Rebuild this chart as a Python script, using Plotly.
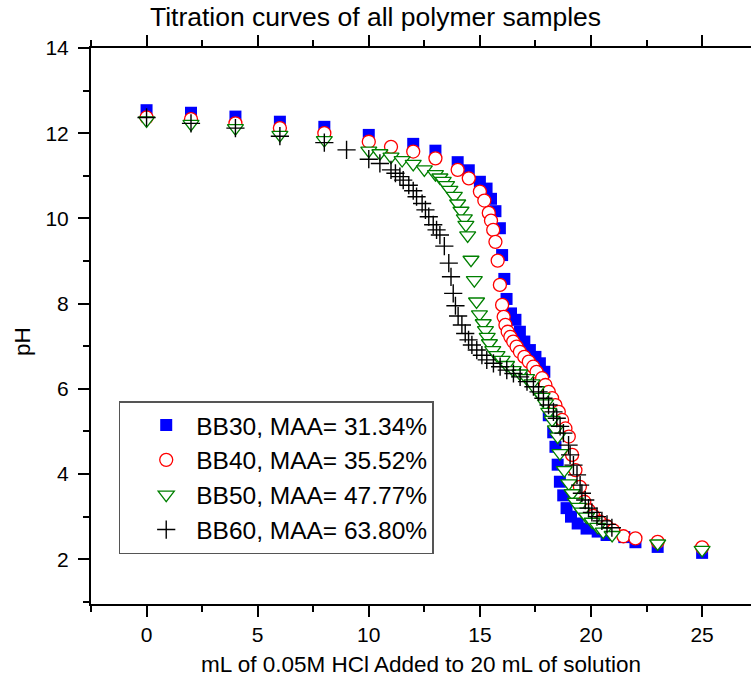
import plotly.graph_objects as go

# ---- data ----
names = ["BB30, MAA= 31.34%", "BB40, MAA= 35.52%", "BB50, MAA= 47.77%", "BB60, MAA= 63.80%"]

x30 = [0, 2, 4, 6, 8, 10, 12, 13, 14, 14.5, 15, 15.3, 15.5, 15.7, 15.9, 16.0, 16.1, 16.2, 16.4, 16.6,
       16.8, 17.0, 17.25, 17.5, 17.7, 17.9, 18.0, 18.1, 18.3, 18.4, 18.5, 18.6, 18.75, 18.9, 19.1,
       19.4, 19.8, 20.3, 20.7, 21.5, 22, 23, 25]
y30 = [12.54, 12.48, 12.39, 12.27, 12.15, 11.96, 11.75, 11.59, 11.32, 11.13, 10.86, 10.7, 10.46, 10.17, 9.77,
       9.14, 8.58, 8.11, 7.77, 7.62, 7.34, 7.11, 6.91, 6.75, 6.6, 6.4, 5.9, 5.38, 4.98, 4.64,
       4.22, 3.82, 3.5, 3.2, 3.0, 2.84, 2.72, 2.65, 2.57, 2.52, 2.4, 2.29, 2.15]

x40 = [0, 2, 4, 6, 8, 10, 11, 12, 13, 14, 14.5, 15, 15.2, 15.4, 15.5, 15.6, 15.7, 15.8, 15.9, 16.0,
       16.07, 16.15, 16.25, 16.37, 16.5, 16.65, 16.8, 17.0, 17.2, 17.4, 17.55, 17.8, 17.95, 18.1, 18.25,
       18.4, 18.55, 18.7, 18.85, 19.0, 19.15, 19.3, 19.5, 19.7, 19.9, 20.1, 20.4, 20.7, 21.0, 21.46,
       22, 23, 25]
y40 = [12.37, 12.33, 12.23, 12.12, 12.0, 11.8, 11.68, 11.57, 11.41, 11.14, 10.94, 10.63, 10.42, 10.13, 9.95,
       9.73, 9.45, 9.01, 8.44, 7.97, 7.69, 7.5, 7.34, 7.22, 7.11, 6.99, 6.87, 6.75, 6.64, 6.52,
       6.4, 6.25, 6.09, 5.93, 5.78, 5.62, 5.46, 5.27, 5.07, 4.88, 4.45, 4.09, 3.7, 3.35, 3.15,
       3.02, 2.88, 2.78, 2.68, 2.54, 2.49, 2.41, 2.28]

x50 = [0, 2, 4, 6, 8, 10, 10.5, 11, 11.5, 12, 12.5, 13, 13.2, 13.35, 13.5, 13.65, 13.85, 14.0, 14.15, 14.3,
       14.37, 14.45, 14.6, 14.75, 14.85, 14.98, 15.15, 15.25, 15.33, 15.43, 15.58, 15.77, 16.0, 16.2, 16.5,
       16.8, 17.1, 17.35, 17.55, 17.8, 17.95, 18.1, 18.25, 18.4, 18.5, 18.6, 18.8, 19.0, 19.15, 19.3,
       19.45, 19.6, 19.8, 20.05, 20.3, 20.55, 20.95, 23, 25]
y50 = [12.3, 12.22, 12.12, 11.96, 11.84, 11.59, 11.53, 11.45, 11.37, 11.28, 11.15, 11.04, 10.96, 10.88, 10.78,
       10.67, 10.53, 10.35, 10.18, 10.0, 9.85, 9.6, 9.03, 8.55, 8.05, 7.75, 7.54, 7.38, 7.22, 7.07,
       6.91, 6.79, 6.68, 6.56, 6.44, 6.36, 6.25, 6.13, 5.97, 5.81, 5.66, 5.46, 5.27, 5.05, 4.88,
       4.49, 4.09, 3.78, 3.55, 3.35, 3.23, 3.12, 3.0, 2.88, 2.76, 2.65, 2.57, 2.37, 2.22]

x60 = [0, 2, 4, 6, 8, 9, 10, 10.5, 11, 11.2, 11.4, 11.55, 11.8, 12.0, 12.15, 12.4, 12.55, 12.7, 12.9, 13.05,
       13.2, 13.4, 13.6, 13.7, 13.8, 13.9, 14.02, 14.19, 14.34, 14.49, 14.64, 14.86, 15.09, 15.31, 15.61,
       15.91, 16.21, 16.51, 16.81, 17.12, 17.41, 17.64, 17.86, 18.09, 18.31, 18.46, 18.61, 18.76, 18.99, 19.06,
       19.21, 19.37, 19.51, 19.59, 19.74, 19.89, 20.04, 20.27, 20.49, 20.72, 20.94]
y60 = [12.37, 12.23, 12.12, 11.93, 11.78, 11.61, 11.39, 11.29, 11.14, 11.06, 10.98, 10.9, 10.78, 10.65, 10.51,
       10.35, 10.2, 10.04, 9.85, 9.73, 9.61, 9.35, 8.95, 8.63, 8.24, 7.95, 7.71, 7.5, 7.3, 7.15,
       7.03, 6.91, 6.79, 6.68, 6.6, 6.52, 6.44, 6.36, 6.28, 6.17, 6.05, 5.93, 5.78, 5.62, 5.46,
       5.31, 5.12, 4.96, 4.68, 4.45, 4.21, 3.98, 3.74, 3.55, 3.39, 3.2, 3.1, 3.0, 2.9, 2.82, 2.74]

FONT = "Liberation Sans, Arial, sans-serif"

fig = go.Figure()
fig.add_trace(go.Scatter(x=x30, y=y30, mode="markers", name=names[0],
                         marker=dict(symbol="square", size=12, color="#0000FF", line=dict(width=0))))
fig.add_trace(go.Scatter(x=x40, y=y40, mode="markers", name=names[1],
                         marker=dict(symbol="circle", size=13, color="white",
                                     line=dict(color="#FF0000", width=1.3))))
fig.add_trace(go.Scatter(x=x50, y=y50, mode="markers", name=names[2],
                         marker=dict(symbol="triangle-down", size=14, color="white",
                                     line=dict(color="#008000", width=1.3))))
fig.add_trace(go.Scatter(x=x60, y=y60, mode="markers", name=names[3],
                         marker=dict(symbol="cross-thin", size=13, color="black",
                                     line=dict(color="black", width=1.4))))

axis_common = dict(showgrid=False, zeroline=False, showline=True, linecolor="black", linewidth=2,
                   ticks="outside", ticklen=11, tickwidth=2, tickcolor="black", automargin=False,
                   tickfont=dict(family=FONT, size=21, color="black"))

fig.update_xaxes(range=[-2.5, 27.2], tickmode="array", tickvals=[0, 5, 10, 15, 20, 25],
                 mirror="ticks",
                 minor=dict(tickmode="array", tickvals=[-2.5, 2.5, 7.5, 12.5, 17.5, 22.5],
                            ticks="outside", ticklen=6, tickwidth=2, tickcolor="black"),
                 title=dict(text="mL of 0.05M HCl Added to 20 mL of solution",
                            font=dict(family=FONT, size=22.5, color="black"), standoff=11),
                 **axis_common)
fig.update_yaxes(range=[0.95, 14], tickmode="array", tickvals=[2, 4, 6, 8, 10, 12, 14],
                 mirror=False, ticklabelstandoff=5,
                 minor=dict(tickmode="array", tickvals=[1, 3, 5, 7, 9, 11, 13],
                            ticks="outside", ticklen=6, tickwidth=2, tickcolor="black"),
                 **axis_common)

fig.add_annotation(text="pH", xref="paper", yref="paper", x=(22 - 91) / 660, y=(604 - 342) / 556,
                   xanchor="center", yanchor="middle", textangle=-90, showarrow=False,
                   font=dict(family=FONT, size=22.5, color="black"))

fig.update_layout(
    width=751, height=681,
    margin=dict(l=91, r=0, t=48, b=77, autoexpand=False),
    plot_bgcolor="white", paper_bgcolor="white",
    title=dict(text="Titration curves of all polymer samples", x=0.5, xanchor="center",
               xref="container", yref="container",
               y=1 - 17 / 681, yanchor="middle",
               font=dict(family=FONT, size=26.5, color="black")),
    legend=dict(x=0.042, y=0.365, xanchor="left", yanchor="top",
                bgcolor="white", bordercolor="#555555", borderwidth=1.5,
                font=dict(family=FONT, size=24.5, color="black"),
                itemwidth=50, indentation=16, tracegroupgap=0,
                entrywidth=268, entrywidthmode="pixels"),
    showlegend=True,
)

fig.write_html("out.html", config={"displayModeBar": False},
               post_script="document.body.style.margin='0px';")
